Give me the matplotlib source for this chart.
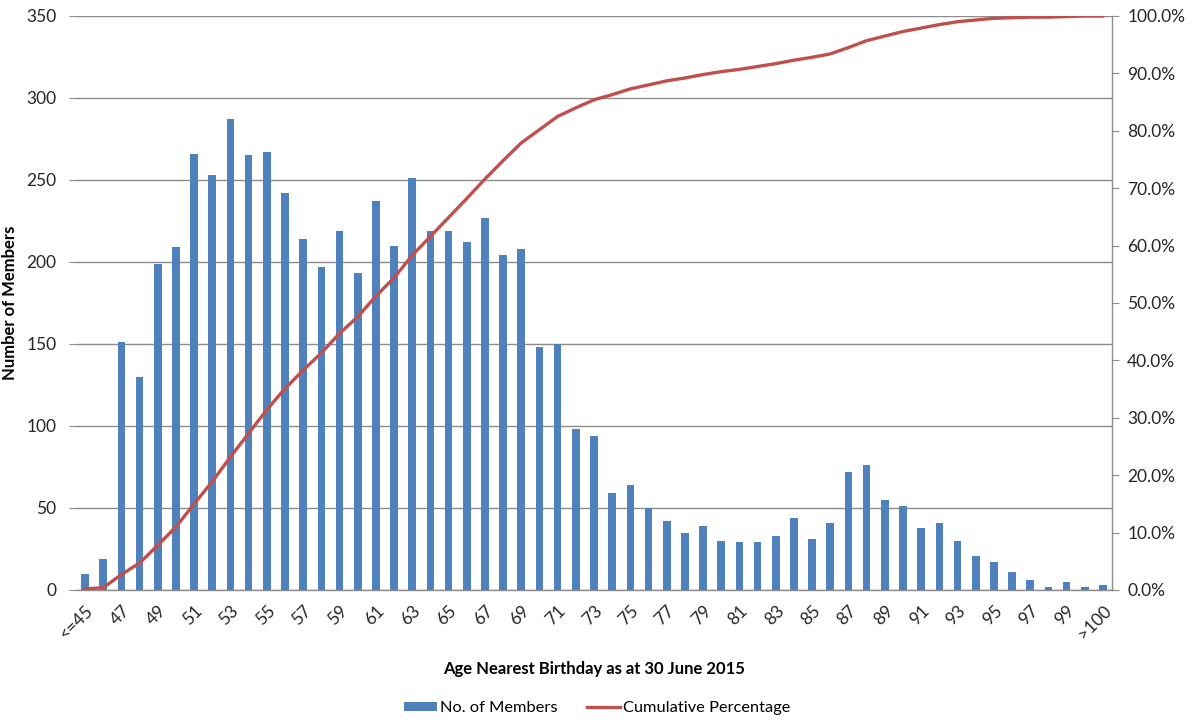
import matplotlib
matplotlib.use("Agg")
import matplotlib.pyplot as plt
from matplotlib.ticker import FuncFormatter, MultipleLocator
from matplotlib.patches import Patch
from matplotlib.lines import Line2D

plt.rcParams['font.family'] = ['Lato', 'DejaVu Sans']

categories = ['<=45'] + [str(a) for a in range(46, 101)] + ['>100']
members = [10, 19, 151, 130, 199, 209, 266, 253, 287, 265,
           267, 242, 214, 197, 219, 193, 237, 210, 251, 219,
           219, 212, 227, 204, 208, 148, 150, 98, 94, 59,
           64, 50, 42, 35, 39, 30, 29, 29, 33, 44,
           31, 41, 72, 76, 55, 51, 38, 41, 30, 21,
           17, 11, 6, 2, 5, 2, 3]
cumulative_pct = [0.2, 0.4, 2.7, 4.7, 7.8, 11.0, 15.0, 18.9, 23.2, 27.3,
                  31.4, 35.1, 38.3, 41.3, 44.7, 47.6, 51.2, 54.4, 58.3, 61.6,
                  64.9, 68.2, 71.6, 74.8, 77.9, 80.2, 82.5, 84.0, 85.4, 86.3,
                  87.3, 88.0, 88.7, 89.2, 89.8, 90.3, 90.7, 91.2, 91.7, 92.3,
                  92.8, 93.4, 94.5, 95.7, 96.5, 97.3, 97.9, 98.5, 99.0, 99.3,
                  99.6, 99.7, 99.8, 99.8, 99.9, 100.0, 100.0]

bar_color = '#4F81BD'
line_color = '#C0504D'
grid_color = '#8C8C8C'
text_color = '#262626'
fs = 12.5

fig = plt.figure(figsize=(11.95, 7.22), dpi=100)
ax = fig.add_axes([76/1195, 1 - 590/722, (1112-76)/1195, (590-16)/722])

x = list(range(len(categories)))
ax.bar(x, members, width=0.42, color=bar_color, zorder=3)
ax.set_xlim(-0.5, len(categories) - 0.5)
ax.set_ylim(0, 350)
ax.yaxis.set_major_locator(MultipleLocator(50))
ax.grid(axis='y', color=grid_color, linewidth=1.0, zorder=0)
for s in ['top', 'right', 'left']:
    ax.spines[s].set_visible(False)
ax.spines['bottom'].set_color(grid_color)
ax.spines['bottom'].set_linewidth(1.0)
ax.tick_params(axis='y', length=5, color=grid_color, labelsize=fs, labelcolor=text_color, pad=9)
ax.set_xticks(x[::2])
ax.set_xticklabels(categories[::2], rotation=45, ha='right', rotation_mode='anchor')
ax.tick_params(axis='x', length=0, labelsize=fs, labelcolor=text_color, pad=9)
ax.set_ylabel('Number of Members', fontsize=12, fontweight='bold', color='black')
ax.yaxis.set_label_coords((18 - 76) / (1112 - 76), 0.5)
ax.set_xlabel('Age Nearest Birthday as at 30 June 2015', fontsize=12, fontweight='bold', color='black')
ax.xaxis.set_label_coords(0.5, -(661 - 590) / (590 - 16))

ax2 = ax.twinx()
ax2.plot(x, [v / 100 for v in cumulative_pct], color=line_color, linewidth=2.4, zorder=4)
ax2.set_ylim(0, 1)
ax2.yaxis.set_major_locator(MultipleLocator(0.1))
ax2.yaxis.set_major_formatter(FuncFormatter(lambda v, p: f'{v*100:.1f}%'))
for s in ['top', 'left', 'bottom']:
    ax2.spines[s].set_visible(False)
ax2.spines['right'].set_color(grid_color)
ax2.spines['right'].set_linewidth(1.0)
ax2.tick_params(axis='y', length=5, color=grid_color, labelsize=fs, labelcolor=text_color, pad=6)

handles = [Patch(facecolor=bar_color, edgecolor='none'),
           Line2D([0], [0], color=line_color, linewidth=2.4)]
fig.legend(handles, ['No. of Members', 'Cumulative Percentage'], loc='center',
           bbox_to_anchor=(0.5, 1 - 708/722), ncol=2, frameon=False, fontsize=11.8,
           handlelength=2.0, handleheight=0.5, handletextpad=0.2, columnspacing=1.8)

fig.savefig('out.png', dpi=100)
